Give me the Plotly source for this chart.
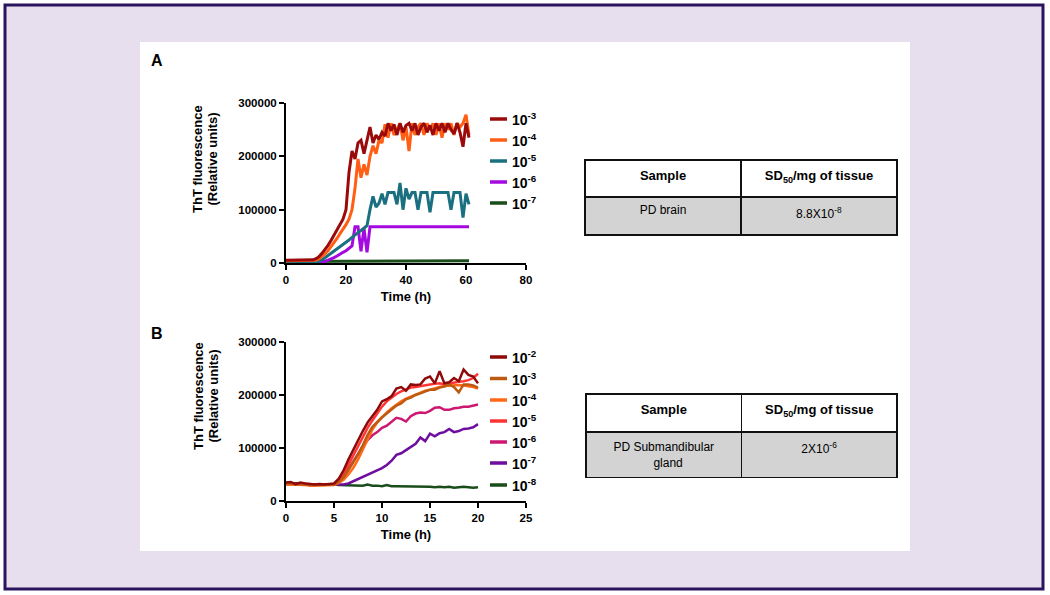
import plotly.graph_objects as go

W, H = 1050, 595

# ---------------- Panel A data (ThT fluorescence, thousands of RU) ----------------
time_a = list(range(62))  # hours
labels_a = ["10<sup>-3</sup>", "10<sup>-4</sup>", "10<sup>-5</sup>", "10<sup>-6</sup>", "10<sup>-7</sup>"]
colors_a = ["#9B0A0A", "#FF5E14", "#1A7080", "#A40AE0", "#1A4D1A"]

a_1e3 = [5, 5, 5, 5, 5, 5, 5, 5, 5, 6,
         8, 12, 18, 25, 33, 42, 52, 62, 72, 82,
         100, 170, 210, 195, 225, 230, 205, 232, 255, 225,
         240, 232, 245, 238, 262, 248, 260, 240, 262, 245,
         258, 262, 248, 262, 240, 255, 262, 245, 258, 240,
         262, 248, 262, 245, 262, 250, 242, 262, 245, 218,
         262, 235]
a_1e4 = [4, 4, 4, 4, 4, 4, 4, 4, 4, 4,
         5, 8, 12, 17, 23, 30, 38, 46, 55, 63,
         72, 82, 100, 140, 195, 160, 185, 165, 200, 220,
         205, 230, 225, 260, 235, 262, 240, 250, 262, 230,
         255, 210, 262, 240, 255, 262, 240, 262, 250, 262,
         240, 262, 235, 262, 250, 262, 240, 262, 255, 262,
         278, 240]
a_1e5 = [1, 1, 1, 1, 1, 1, 1, 1, 1, 1,
         1, 3, 6, 10, 14, 18, 22, 26, 30, 34,
         38, 43, 48, 53, 57, 61, 65, 70, 100, 125,
         105, 112, 130, 110, 132, 132, 132, 110, 150, 100,
         140, 120, 132, 132, 100, 132, 132, 132, 95, 132,
         132, 132, 132, 132, 132, 100, 132, 132, 132, 85,
         130, 110]
a_1e6 = [1, 1, 1, 1, 1, 1, 1, 1, 1, 1,
         1, 1, 1, 3, 5, 7, 10, 13, 17, 20,
         23, 27, 32, 68, 68, 22, 65, 20, 68, 68,
         68, 68, 68, 68, 68, 68, 68, 68, 68, 68,
         68, 68, 68, 68, 68, 68, 68, 68, 68, 68,
         68, 68, 68, 68, 68, 68, 68, 68, 68, 68,
         68, 68]
a_1e7 = [3, 3, 3, 3, 3, 3, 3, 3, 3, 3,
         3, 3, 3, 4, 4, 4, 4, 4, 4, 4,
         4, 4, 4, 4, 4, 4, 4, 4, 4, 4,
         4, 4, 4, 4, 4, 4, 4, 4, 4, 4,
         4, 4, 4, 4, 4, 4, 4, 4, 4, 4,
         4, 4, 4, 4, 4, 4, 4, 4, 4, 4,
         4, 4]
series_a = [a_1e3, a_1e4, a_1e5, a_1e6, a_1e7]

# ---------------- Panel B data ----------------
time_b = [i * 0.5 for i in range(41)]
labels_b = ["10<sup>-2</sup>", "10<sup>-3</sup>", "10<sup>-4</sup>", "10<sup>-5</sup>",
            "10<sup>-6</sup>", "10<sup>-7</sup>", "10<sup>-8</sup>"]
colors_b = ["#8E0A0A", "#BD5A12", "#FF6A1A", "#FF3535", "#CC1870", "#6E0E9E", "#1A4D1A"]

b_1e2 = [35, 36, 32, 35, 33, 32, 31, 32, 31, 32, 33, 42, 58, 78, 97, 115, 132, 148, 160, 172,
         188, 192, 198, 212, 215, 208, 220, 219, 220, 231, 235, 222, 245, 222, 224, 232, 226,
         248, 238, 235, 222]
b_1e3 = [33, 33, 31, 32, 31, 30, 30, 30, 30, 30, 31, 36, 45, 58, 72, 88, 105, 125, 140, 150,
         158, 165, 172, 180, 184, 192, 195, 200, 203, 206, 210, 210, 214, 216, 220, 215, 205,
         220, 220, 218, 214]
b_1e4 = [31, 31, 30, 30, 30, 29, 29, 29, 29, 29, 30, 34, 40, 50, 62, 78, 98, 118, 135, 148,
         158, 167, 175, 182, 188, 193, 197, 201, 204, 208, 210, 213, 215, 217, 218, 219, 219,
         218, 217, 215, 212]
b_1e5 = [34, 33, 32, 33, 32, 31, 31, 31, 31, 31, 31, 38, 50, 68, 86, 104, 122, 138, 152, 165,
         178, 188, 195, 202, 207, 210, 214, 215, 217, 219, 220, 221, 222, 220, 222, 223, 225,
         226, 228, 232, 240]
b_1e6 = [32, 32, 31, 31, 31, 30, 30, 30, 30, 30, 31, 36, 46, 60, 75, 90, 103, 115, 124, 130,
         138, 142, 150, 157, 155, 150, 160, 165, 167, 166, 170, 176, 177, 172, 172, 175, 176,
         178, 178, 180, 182]
b_1e7 = [32, 32, 31, 31, 31, 31, 31, 31, 31, 31, 31, 31, 31, 33, 37, 42, 46, 50, 54, 58,
         62, 68, 76, 87, 90, 96, 102, 108, 120, 113, 127, 122, 128, 130, 136, 130, 132,
         136, 137, 139, 145]
b_1e8 = [34, 34, 33, 33, 32, 32, 32, 32, 31, 31, 31, 30, 30, 30, 29, 30, 29, 31, 29, 29,
         28, 30, 28, 28, 28, 28, 28, 27, 28, 27, 27, 26, 27, 26, 27, 25, 26, 27, 26, 25, 26]
series_b = [b_1e2, b_1e3, b_1e4, b_1e5, b_1e6, b_1e7, b_1e8]

# ---------------- Text ----------------
y_title_lines = ["ThT fluorescence", "(Relative units)"]
x_title = "Time (h)"
table_header = ["<b>Sample</b>", "<b>SD<sub>50</sub>/mg of tissue</b>"]
table_a_cells = [["PD brain"], ["8.8X10<sup>-8</sup>"]]
table_b_cells = [["PD Submandibular<br>" + "\u00a0" * 12 + "gland"], ["2X10<sup>-6</sup>"]]

FONT = "Liberation Sans, Arial, sans-serif"


def px_x(p):
    return p / W


def px_y(p):
    return 1 - p / H


fig = go.Figure()

# Panel A traces (reverse order so the first dilution draws on top)
for lab, col, vals in reversed(list(zip(labels_a, colors_a, series_a))):
    fig.add_trace(go.Scatter(x=time_a, y=[v * 1000 for v in vals], mode="lines", name=lab,
                             line=dict(color=col, width=3), xaxis="x", yaxis="y",
                             showlegend=False))
for lab, col, vals in reversed(list(zip(labels_b, colors_b, series_b))):
    fig.add_trace(go.Scatter(x=time_b, y=[v * 1000 for v in vals], mode="lines", name=lab,
                             line=dict(color=col, width=2.5), xaxis="x2", yaxis="y2",
                             showlegend=False))

# Tables
head_font = dict(family=FONT, size=13, color="black")
cell_font = dict(family=FONT, size=12, color="black")
fig.add_trace(go.Table(
    domain=dict(x=[px_x(585), px_x(897)], y=[px_y(300), px_y(160)]),
    columnwidth=[1, 1],
    header=dict(values=table_header, fill_color="white", align="center",
                line=dict(color="#111111", width=1.5), height=37, font=head_font),
    cells=dict(values=table_a_cells, fill_color="#D3D3D3", align="center",
               line=dict(color="#111111", width=1.5), height=38, font=cell_font),
))
fig.add_trace(go.Table(
    domain=dict(x=[px_x(586), px_x(897)], y=[px_y(540), px_y(394)]),
    columnwidth=[1, 1],
    header=dict(values=table_header, fill_color="white", align="center",
                line=dict(color="#111111", width=1.5), height=38, font=head_font),
    cells=dict(values=table_b_cells, fill_color="#D3D3D3", align="center",
               line=dict(color="#111111", width=1.5), height=37, font=cell_font),
))

axis_common = dict(showline=True, linecolor="black", linewidth=2, ticks="outside",
                   ticklen=5, tickwidth=2, tickcolor="black", showgrid=False, zeroline=False,
                   tickfont=dict(family=FONT, size=11.5, color="black", weight="bold"),
                   fixedrange=True, automargin=False)

title_font = dict(family=FONT, size=13, color="black", weight="bold")

fig.update_layout(
    width=W, height=H, autosize=False,
    margin=dict(l=0, r=0, t=0, b=0, pad=0, autoexpand=False),
    paper_bgcolor="white",
    plot_bgcolor="rgba(0,0,0,0)",
    showlegend=False,
    xaxis=dict(domain=[px_x(286), px_x(526)], range=[0, 80], dtick=20, anchor="y",
               title=dict(text=x_title, font=title_font, standoff=7), **axis_common),
    yaxis=dict(domain=[px_y(263), px_y(103)], range=[0, 300000], dtick=100000,
               tickformat="d", anchor="x", **axis_common),
    xaxis2=dict(domain=[px_x(286), px_x(526)], range=[0, 25], dtick=5, anchor="y2",
                title=dict(text=x_title, font=title_font, standoff=7), **axis_common),
    yaxis2=dict(domain=[px_y(501), px_y(342)], range=[0, 300000], dtick=100000,
                tickformat="d", anchor="x2", **axis_common),
)

shapes = [
    # lavender frame with dark purple border
    dict(type="rect", xref="paper", yref="paper", x0=px_x(5), x1=px_x(1043), y0=px_y(589),
         y1=px_y(5), fillcolor="#E7DEEE", line=dict(color="#2B145E", width=3), layer="below"),
    # white panel
    dict(type="rect", xref="paper", yref="paper", x0=px_x(140), x1=px_x(910), y0=px_y(551),
         y1=px_y(42), fillcolor="white", line=dict(width=0), layer="below"),
]

annotations = [
    dict(text="<b>A</b>", x=px_x(149), y=px_y(61), xref="paper", yref="paper",
         xanchor="left", yanchor="middle", showarrow=False,
         font=dict(family=FONT, size=16, color="black")),
    dict(text="<b>B</b>", x=px_x(149), y=px_y(333), xref="paper", yref="paper",
         xanchor="left", yanchor="middle", showarrow=False,
         font=dict(family=FONT, size=16, color="black")),
]

# Y-axis titles (two rotated lines each, placed as in the original figure)
for yc in (159, 396):
    for line_txt, xc in zip(y_title_lines, (198, 212.5)):
        annotations.append(dict(text="<b>" + line_txt + "</b>", x=px_x(xc), y=px_y(yc),
                                xref="paper", yref="paper", xanchor="center",
                                yanchor="middle", textangle=-90, showarrow=False,
                                font=dict(family=FONT, size=13, color="black")))

# Custom legends
leg_a_y = [119, 140, 161, 182, 203]
for lab, col, yy in zip(labels_a, colors_a, leg_a_y):
    shapes.append(dict(type="line", xref="paper", yref="paper", x0=px_x(490), x1=px_x(507),
                       y0=px_y(yy), y1=px_y(yy), line=dict(color=col, width=3.5)))
    annotations.append(dict(text="<b>" + lab + "</b>", x=px_x(510), y=px_y(yy),
                            xref="paper", yref="paper", xanchor="left", yanchor="middle",
                            showarrow=False, font=dict(family=FONT, size=14, color="black")))

leg_b_y = [357, 378.5, 400, 421, 442, 463, 485]
for lab, col, yy in zip(labels_b, colors_b, leg_b_y):
    shapes.append(dict(type="line", xref="paper", yref="paper", x0=px_x(490), x1=px_x(507),
                       y0=px_y(yy), y1=px_y(yy), line=dict(color=col, width=3.5)))
    annotations.append(dict(text="<b>" + lab + "</b>", x=px_x(510), y=px_y(yy),
                            xref="paper", yref="paper", xanchor="left", yanchor="middle",
                            showarrow=False, font=dict(family=FONT, size=14, color="black")))

fig.update_layout(shapes=shapes, annotations=annotations)

fig.write_html("out.html", config={"displayModeBar": False},
               post_script="document.body.style.margin='0';document.body.style.overflow='hidden';")
